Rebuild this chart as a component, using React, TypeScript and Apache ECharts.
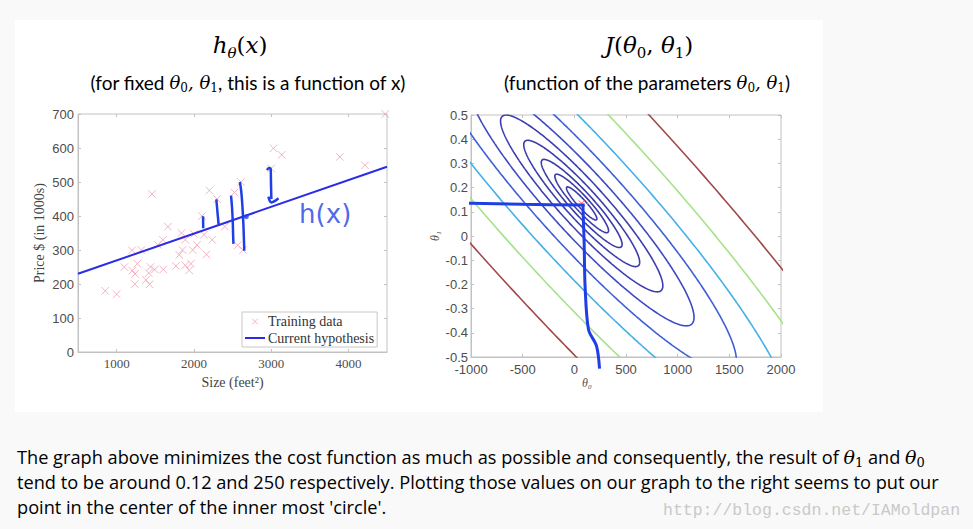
import React, { useEffect, useRef } from 'react';
import * as echarts from 'echarts';

// Training data (size in feet^2, price in $1000s)
const sizes = [2104, 1600, 2400, 1416, 3000, 1985, 1534, 1427, 1380, 1494, 1940, 2000, 1890, 4478, 1268, 2300, 1320, 1236, 2609, 3031, 1767, 1888, 1604, 1962, 3890, 1100, 1458, 2526, 2200, 2637, 1839, 1000, 2040, 3137, 1811, 1437, 1239, 2132, 4215, 2162, 1664, 2238, 2567, 1200, 852, 1852, 1203];
const prices = [399.9, 329.9, 369, 232, 539.9, 299.9, 314.9, 199, 212, 242.5, 240, 347, 330, 699.9, 259.9, 449.9, 299.9, 199.9, 500, 599, 252.9, 255, 242.9, 259.9, 573.9, 249.9, 464.5, 469, 475, 299.9, 349.9, 169.9, 314.9, 579.9, 285.9, 249.9, 229.9, 345, 549, 287, 368.5, 329.9, 314, 299, 179.9, 299.9, 239.5];

// Current hypothesis line
const hypothesisX = [500, 4500];
const hypothesisY = [230, 545];

// Contour levels of J and their colours
const contourLevels = [3510, 6580, 12300, 23100, 43300, 81100, 152000, 285000, 534000, 1000000];
const contourColors = ['#3b3aa8', '#3b3aa8', '#3b3aa8', '#3b3cac', '#3c3eb2', '#3d4ac4', '#3e5fd6', '#45b0e6', '#a5e38a', '#a0494b'];

// Hand-drawn annotations (data coordinates)
const handStrokesLeft = [
  [[2119, 399], [2121, 364]],
  [[2291, 449], [2300, 425], [2312, 395], [2322, 371]],
  [[2481, 460], [2494, 425], [2503, 385], [2508, 345], [2512, 318]],
  [[2595, 500], [2612, 475], [2628, 430], [2640, 380], [2648, 330], [2652, 298]],
  [[2946, 535], [2972, 541], [2995, 536], [2998, 500], [3003, 450]],
  [[2965, 457], [3005, 440], [3095, 452]],
];
const handDot = [[2679, 398]];
const handLabel = [[3700, 405]];
const handH = [[-1075, 0.136], [-1000, 0.135], [-500, 0.131], [100, 0.128]];
const handV = [[83, 0.128], [95, -0.03], [104, -0.207], [137, -0.386], [215, -0.455], [244, -0.548]];

const leftXTicks = [1000, 2000, 3000, 4000];

export default function App() {
  const ref = useRef<HTMLDivElement>(null);
  useEffect(() => {
    if (!ref.current) return;
    const chart = echarts.init(ref.current, null, { renderer: 'svg' });

    const m = sizes.length;
    const xbar = sizes.reduce((a, b) => a + b, 0) / m;
    const ybar = prices.reduce((a, b) => a + b, 0) / m;
    let sxx = 0, sxy = 0;
    for (let i = 0; i < m; i++) { sxx += (sizes[i] - xbar) ** 2; sxy += (sizes[i] - xbar) * (prices[i] - ybar); }
    const varx = sxx / m;
    const t1 = sxy / sxx;
    const t0 = ybar - t1 * xbar;
    let jmin = 0;
    for (let i = 0; i < m; i++) jmin += (t0 + t1 * sizes[i] - prices[i]) ** 2;
    jmin /= 2 * m;

    const contour = (level: number) => {
      const q = 2 * (level - jmin);
      const a = Math.sqrt(q / varx);
      const pts: number[][] = [];
      for (let i = 0; i <= 720; i++) {
        const t = (i * Math.PI) / 360;
        const d1 = a * Math.sin(t);
        const d0 = -xbar * d1 + Math.sqrt(q) * Math.cos(t);
        pts.push([t0 + d0, t1 + d1]);
      }
      return pts;
    };

    const axisGray = '#c2c2c2';
    const labelGray = '#4d4d4d';
    const xMark = 'path://M0,0L10,10M10,0L0,10';
    const xMarkLegend = 'path://M0,0M6,6L14,14M14,6L6,14M20,20';
    const lineLegend = 'path://M0,0L20,0L20,2L0,2Z';
    const handBlue = '#1f3fe6';
    const plain = (v: number) => String(Math.round(v * 1000) / 1000);

    const mathRich = {
      m: { fontFamily: 'DejaVu Serif', fontStyle: 'italic', fontSize: 23, color: '#2a2a2a', lineHeight: 30, verticalAlign: 'middle' },
      p: { fontFamily: 'DejaVu Serif', fontSize: 23, color: '#2a2a2a', lineHeight: 30, verticalAlign: 'middle' },
      si: { fontFamily: 'DejaVu Serif', fontStyle: 'italic', fontSize: 15, color: '#2a2a2a', lineHeight: 14, verticalAlign: 'bottom' },
      s: { fontFamily: 'DejaVu Serif', fontSize: 15, color: '#2a2a2a', lineHeight: 14, verticalAlign: 'bottom' },
    };
    const subRich = {
      t: { fontFamily: 'Lato', fontSize: 19, color: '#111', lineHeight: 24, verticalAlign: 'middle' },
      m: { fontFamily: 'DejaVu Serif', fontStyle: 'italic', fontSize: 18, color: '#444', lineHeight: 24, verticalAlign: 'middle' },
      s: { fontFamily: 'DejaVu Serif', fontSize: 12, color: '#444', lineHeight: 12, verticalAlign: 'bottom' },
    };
    const paraRich = {
      n: { fontFamily: 'Open Sans', fontSize: 18.2, color: '#333', lineHeight: 24, verticalAlign: 'middle' },
      m: { fontFamily: 'DejaVu Serif', fontStyle: 'italic', fontSize: 19, color: '#333', lineHeight: 24, verticalAlign: 'middle' },
      s: { fontFamily: 'DejaVu Serif', fontSize: 13, color: '#333', lineHeight: 12, verticalAlign: 'bottom' },
    };

    const series: any[] = [
      {
        name: 'Training data', type: 'scatter', xAxisIndex: 0, yAxisIndex: 0,
        data: sizes.map((s, i) => [s, prices[i]]),
        symbol: xMark, symbolSize: 7.5,
        itemStyle: { color: 'rgba(0,0,0,0)', borderColor: '#f3a0b3', borderWidth: 1 },
        silent: true,
      },
      {
        name: 'Current hypothesis', type: 'line', xAxisIndex: 0, yAxisIndex: 0,
        data: hypothesisX.map((x, i) => [x, hypothesisY[i]]),
        symbol: 'none', showSymbol: false, lineStyle: { color: '#2b2be8', width: 2 }, itemStyle: { color: '#2b2be8' },
        silent: true,
      },
    ];
    handStrokesLeft.forEach((st) => series.push({
      type: 'line', xAxisIndex: 0, yAxisIndex: 0, data: st, symbol: 'none', smooth: 0.4,
      lineStyle: { color: handBlue, width: 2.5 }, silent: true, z: 5,
    }));
    series.push({
      type: 'scatter', xAxisIndex: 0, yAxisIndex: 0, data: handDot, symbol: 'circle', symbolSize: 5,
      itemStyle: { color: handBlue }, silent: true, z: 5,
    });
    series.push({
      type: 'scatter', xAxisIndex: 0, yAxisIndex: 0, data: handLabel, symbolSize: 0, silent: true, z: 5,
      label: { show: true, position: 'inside', formatter: 'h(x)', fontFamily: 'DejaVu Sans', fontSize: 26, color: handBlue },
    });
    contourLevels.forEach((lv, i) => series.push({
      type: 'line', xAxisIndex: 1, yAxisIndex: 1, data: contour(lv), symbol: 'none',
      lineStyle: { color: contourColors[i], width: 1.6 }, silent: true, clip: true,
    }));
    series.push({
      type: 'scatter', xAxisIndex: 1, yAxisIndex: 1, data: [[t0, t1]], symbol: xMark, symbolSize: 6,
      itemStyle: { color: 'rgba(0,0,0,0)', borderColor: '#ff4040', borderWidth: 1 }, silent: true, z: 4,
    });
    [handH, handV].forEach((d) => series.push({
      type: 'line', xAxisIndex: 1, yAxisIndex: 1, data: d, symbol: 'none', smooth: 0.3, clip: false,
      lineStyle: { color: handBlue, width: 3 }, silent: true, z: 6,
    }));

    const baseAxis = (extra: any) => ({
      type: 'value',
      axisLine: { show: true, onZero: false, lineStyle: { color: axisGray } },
      axisTick: { show: true, inside: true, length: 3, lineStyle: { color: axisGray } },
      splitLine: { show: false },
      ...extra,
    });
    const hiddenLine = { show: false, onZero: false };

    const option: any = {
      animation: false,
      backgroundColor: '#f9f9f9',
      graphic: [
        { type: 'rect', z: -100, shape: { x: 15, y: 20, width: 808, height: 392 }, style: { fill: '#ffffff' } },
        { type: 'text', x: 240, y: 45, style: { text: '{m|h}{si|θ}{p|(}{m|x}{p|)}', rich: mathRich, align: 'center', verticalAlign: 'middle' } },
        { type: 'text', x: 649, y: 45, style: { text: '{m|J}{p|(}{m|θ}{s|0}{p|, }{m|θ}{s|1}{p|)}', rich: mathRich, align: 'center', verticalAlign: 'middle' } },
        { type: 'text', x: 248, y: 82, style: { text: '{t|(for fixed }{m|θ}{s|0}{m|, θ}{s|1}{t|, this is a function of x)}', rich: subRich, align: 'center', verticalAlign: 'middle' } },
        { type: 'text', x: 647, y: 82, style: { text: '{t|(function of the parameters }{m|θ}{s|0}{m|, θ}{s|1}{t|)}', rich: subRich, align: 'center', verticalAlign: 'middle' } },
        { type: 'text', x: 17, y: 457, style: { text: '{n|The graph above minimizes the cost function as much as possible and consequently, the result of }{m|θ}{s|1}{n| and }{m|θ}{s|0}', rich: paraRich, align: 'left', verticalAlign: 'middle' } },
        { type: 'text', x: 17, y: 482, style: { text: '{n|tend to be around 0.12 and 250 respectively. Plotting those values on our graph to the right seems to put our}', rich: paraRich, align: 'left', verticalAlign: 'middle' } },
        { type: 'text', x: 17, y: 507, style: { text: "{n|point in the center of the inner most 'circle'.}", rich: paraRich, align: 'left', verticalAlign: 'middle' } },
        { type: 'text', x: 663, y: 510, style: { text: 'http://blog.csdn.net/IAMoldpan', fontFamily: 'Liberation Mono', fontSize: 16.5, fill: '#c9c9c9', align: 'left', verticalAlign: 'middle' } },
      ],
      legend: {
        data: [
          { name: 'Training data', icon: xMarkLegend, itemStyle: { color: 'rgba(0,0,0,0)', borderColor: '#f3a0b3', borderWidth: 1 } },
          { name: 'Current hypothesis', icon: lineLegend, itemStyle: { color: '#2b2be8', borderWidth: 0 } },
        ],
        orient: 'vertical', left: 242, top: 312, itemGap: 2, itemWidth: 20, itemHeight: 14,
        padding: [2, 3, 2, 3], borderColor: '#c8c8c8', borderWidth: 1, borderRadius: 0, backgroundColor: '#fff',
        textStyle: { fontFamily: 'Liberation Serif', fontSize: 14, color: '#333', padding: [0, 0, 0, -2] },
        selectedMode: false,
      },
      grid: [
        { left: 78, top: 114, width: 309, height: 238, show: true, borderColor: axisGray, borderWidth: 1, backgroundColor: 'transparent' },
        { left: 471, top: 115, width: 310, height: 242, show: true, borderColor: axisGray, borderWidth: 1, backgroundColor: 'transparent' },
      ],
      xAxis: [
        baseAxis({
          gridIndex: 0, min: 500, max: 4500,
          axisLabel: { customValues: leftXTicks, formatter: plain, fontFamily: 'Liberation Serif', fontSize: 13, color: labelGray, margin: 5 },
          axisTick: { show: true, inside: true, length: 3, customValues: leftXTicks, lineStyle: { color: axisGray } },
          name: 'Size (feet²)', nameLocation: 'middle', nameGap: 23,
          nameTextStyle: { fontFamily: 'Liberation Serif', fontSize: 14, color: '#444' },
        }),
        baseAxis({
          gridIndex: 1, min: -1000, max: 2000, interval: 500,
          axisLabel: { formatter: plain, fontFamily: 'Liberation Sans', fontSize: 13, color: labelGray, margin: 6 },
          name: 'θ₀', nameLocation: 'middle', nameGap: 19,
          nameTextStyle: { fontFamily: 'Liberation Serif', fontStyle: 'italic', fontSize: 12, color: '#555', padding: [0, 78, 0, 0] },
        }),
        baseAxis({
          gridIndex: 0, min: 500, max: 4500, position: 'top', axisLine: hiddenLine,
          axisLabel: { show: false },
          axisTick: { show: true, inside: true, length: 3, customValues: leftXTicks, lineStyle: { color: axisGray } },
        }),
        baseAxis({
          gridIndex: 1, min: -1000, max: 2000, interval: 500, position: 'top', axisLine: hiddenLine,
          axisLabel: { show: false },
        }),
      ],
      yAxis: [
        baseAxis({
          gridIndex: 0, min: 0, max: 700, interval: 100,
          axisLabel: { formatter: plain, fontFamily: 'Liberation Sans', fontSize: 13, color: labelGray, margin: 4 },
          name: 'Price $ (in 1000s)', nameLocation: 'middle', nameGap: 32,
          nameTextStyle: { fontFamily: 'Liberation Serif', fontSize: 14, color: '#444' },
        }),
        baseAxis({
          gridIndex: 1, min: -0.5, max: 0.5, interval: 0.1,
          axisLabel: { formatter: plain, fontFamily: 'Liberation Sans', fontSize: 13, color: labelGray, margin: 3 },
          name: 'θ₁', nameLocation: 'middle', nameGap: 30,
          nameTextStyle: { fontFamily: 'Liberation Serif', fontStyle: 'italic', fontSize: 12, color: '#555' },
        }),
        baseAxis({
          gridIndex: 0, min: 0, max: 700, interval: 100, position: 'right', axisLine: hiddenLine,
          axisLabel: { show: false },
        }),
        baseAxis({
          gridIndex: 1, min: -0.5, max: 0.5, interval: 0.1, position: 'right', axisLine: hiddenLine,
          axisLabel: { show: false },
        }),
      ],
      series,
    };
    chart.setOption(option);
    return () => chart.dispose();
  }, []);

  return (
    <div
      ref={ref}
      style={{ position: 'absolute', left: 0, top: 0, width: 973, height: 529 }}
    />
  );
}
